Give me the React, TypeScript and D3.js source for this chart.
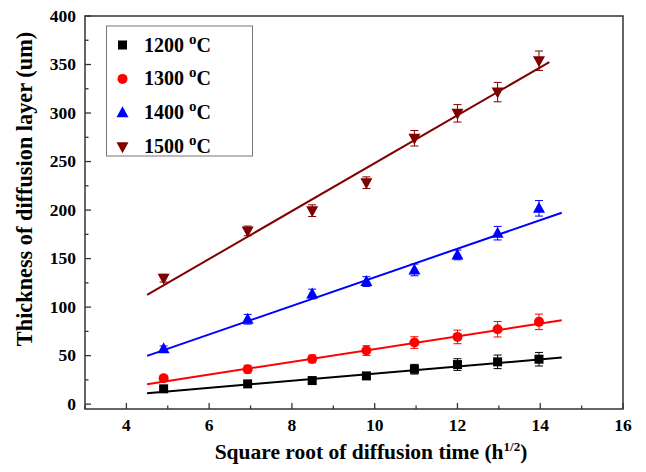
import React from "react";
import * as d3 from "d3";

const xValues = [4.9, 6.93, 8.49, 9.8, 10.96, 12.0, 12.97, 13.97];
const labels = ["1200", "1300", "1400", "1500"];
const colors = ["#000000", "#ff0000", "#0000ff", "#800000"];
const y1200 = [15.8, 20.9, 24.3, 29.1, 36.0, 40.8, 43.6, 46.3];
const y1300 = [26.7, 36.0, 46.6, 55.2, 63.5, 69.3, 77.2, 84.8];
const y1400 = [57.0, 87.5, 113.5, 126.3, 138.3, 153.8, 176.2, 201.8];
const y1500 = [129.8, 178.5, 199.4, 228.2, 274.0, 299.7, 321.6, 353.9];
const e1200 = [2, 2, 3, 3, 5, 6, 7, 7];
const e1300 = [3, 4, 4, 5, 6, 7, 8, 8];
const e1400 = [3, 5, 5, 5, 6, 5, 7, 8];
const e1500 = [4, 5, 6, 6, 8, 9, 10, 10];
const fitX = [[4.5, 14.52], [4.5, 14.52], [4.5, 14.52], [4.5, 14.22]];
const fitY = [[11.3, 48.0], [20.6, 86.5], [49.7, 197.3], [112.6, 352.5]];
const xTicks = [4, 6, 8, 10, 12, 14, 16];
const yTicks = [0, 50, 100, 150, 200, 250, 300, 350, 400];

const series = [y1200, y1300, y1400, y1500];
const errs = [e1200, e1300, e1400, e1500];

const W = 646, H = 472;
const L = 85, R = 623, T = 16, B = 409;
const font = "'Liberation Serif', 'Times New Roman', serif";

function Marker({ kind, cx, cy, color }: { kind: number; cx: number; cy: number; color: string }) {
  if (kind === 0) return <rect x={cx - 4.5} y={cy - 4.5} width={9} height={9} fill={color} />;
  if (kind === 1) return <circle cx={cx} cy={cy} r={5} fill={color} />;
  if (kind === 2) {
    const p = d3.path();
    p.moveTo(cx, cy - 6.5); p.lineTo(cx + 6, cy + 4.5); p.lineTo(cx - 6, cy + 4.5); p.closePath();
    return <path d={p.toString()} fill={color} />;
  }
  const p = d3.path();
  p.moveTo(cx, cy + 6.5); p.lineTo(cx + 6, cy - 4.5); p.lineTo(cx - 6, cy - 4.5); p.closePath();
  return <path d={p.toString()} fill={color} />;
}

export default function App() {
  const x = d3.scaleLinear().domain([3, 16]).range([L, R]);
  const y = d3.scaleLinear().domain([-5, 400]).range([B, T]);
  const line = d3.line<number>();
  const xMinor = d3.range(3, 16.01, 1);
  const yMinor = d3.range(25, 400, 50);
  const axisColor = "#333";
  return (
    <svg width={W} height={H} style={{ position: "absolute", left: 0, top: 0, background: "#fff" }} fontFamily={font}>
      <rect x={0} y={0} width={W} height={H} fill="#fff" />
      {xTicks.map((t) => (
        <g key={"xt" + t}>
          <line x1={x(t)} x2={x(t)} y1={B} y2={B - 6} stroke={axisColor} strokeWidth={1.3} />
          <text x={x(t)} y={431} textAnchor="middle" fontSize={17.5} fontWeight="bold" fill="#000">{t}</text>
        </g>
      ))}
      {xMinor.filter((t) => !xTicks.includes(t)).map((t) => (
        <line key={"xm" + t} x1={x(t)} x2={x(t)} y1={B} y2={B - 3.5} stroke={axisColor} strokeWidth={1.3} />
      ))}
      {yTicks.map((t) => (
        <g key={"yt" + t}>
          <line x1={L} x2={L + 6} y1={y(t)} y2={y(t)} stroke={axisColor} strokeWidth={1.3} />
          <text x={76} y={y(t) + 5.5} textAnchor="end" fontSize={17.5} fontWeight="bold" fill="#000">{t}</text>
        </g>
      ))}
      {yMinor.map((t) => (
        <line key={"ym" + t} x1={L} x2={L + 3.5} y1={y(t)} y2={y(t)} stroke={axisColor} strokeWidth={1.3} />
      ))}
      {fitY.map((fy, i) => (
        <path key={"fit" + i} d={line(fy.map((v, j) => [x(fitX[i][j]), y(v)] as [number, number]) as any) || ""}
          stroke={colors[i]} strokeWidth={2} fill="none" />
      ))}
      {series.map((s, i) => (
        <g key={"s" + i}>
          {s.map((v, j) => {
            const cx = x(xValues[j]);
            const yt = y(v + errs[i][j]);
            const yb = y(v - errs[i][j]);
            return (
              <g key={j}>
                <line x1={cx} x2={cx} y1={yt} y2={yb} stroke={colors[i]} strokeWidth={1} />
                <line x1={cx - 4} x2={cx + 4} y1={yt} y2={yt} stroke={colors[i]} strokeWidth={1} />
                <line x1={cx - 4} x2={cx + 4} y1={yb} y2={yb} stroke={colors[i]} strokeWidth={1} />
                <Marker kind={i} cx={cx} cy={y(v)} color={colors[i]} />
              </g>
            );
          })}
        </g>
      ))}
      <rect x={L} y={T} width={R - L} height={B - T} fill="none" stroke={axisColor} strokeWidth={1.5} />
      <rect x={106.5} y={26} width={146} height={130} fill="none" stroke="#777" strokeWidth={1} />
      {labels.map((lab, i) => {
        const cy = 45 + i * 33.9;
        return (
          <g key={"lg" + i}>
            <Marker kind={i} cx={122.5} cy={cy} color={colors[i]} />
            <text x={144} y={cy + 6.5} fontSize={20} fontWeight="bold" fill="#000">
              {lab + " "}
              <tspan dy={-8} fontSize={15}>o</tspan>
              <tspan dy={8}>C</tspan>
            </text>
          </g>
        );
      })}
      <text transform={`translate(32, 189) rotate(-90)`} textAnchor="middle" fontSize={22.3} fontWeight="bold" fill="#000">
        Thickness of diffusion layer (um)
      </text>
      <text x={371} y={459} textAnchor="middle" fontSize={21.5} fontWeight="bold" fill="#000">
        Square root of diffusion time (h
        <tspan dy={-8} fontSize={13}>1/2</tspan>
        <tspan dy={8}>)</tspan>
      </text>
    </svg>
  );
}
